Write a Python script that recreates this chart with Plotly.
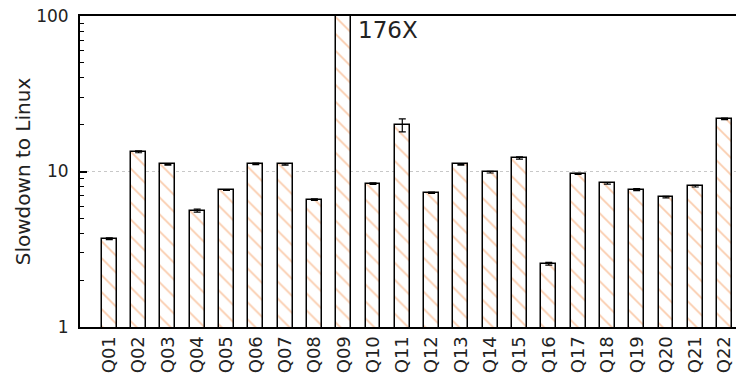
import plotly.graph_objects as go

queries = [f"Q{i:02d}" for i in range(1, 23)]
slowdown = [3.7, 13.4, 11.1, 5.6, 7.6, 11.2, 11.1, 6.6, 176, 8.35, 19.9,
            7.3, 11.1, 9.9, 12.2, 2.55, 9.65, 8.4, 7.65, 6.85, 8.05, 21.8]
errors = [0.05, 0.2, 0.1, 0.12, 0.05, 0.12, 0.12, 0.08, 0.0, 0.1, 1.9,
          0.08, 0.1, 0.12, 0.2, 0.05, 0.08, 0.1, 0.12, 0.08, 0.1, 0.25]
peak_label = "176X"
minor_ticks = [2, 3, 4, 5, 6, 7, 8, 9, 20, 30, 40, 50, 60, 70, 80, 90]

font = "DejaVu Sans"
idx = list(range(len(queries)))

fig = go.Figure()
fig.add_trace(go.Bar(
    x=idx, y=slowdown,
    width=0.51,
    marker=dict(
        color="white",
        line=dict(color="black", width=1.5),
        pattern=dict(shape="\\", fgcolor="#f59a5c", bgcolor="white",
                     size=12, solidity=0.15),
    ),
    error_y=dict(type="data", array=errors, visible=True,
                 color="black", thickness=1.2, width=3.5),
    showlegend=False,
))
# invisible companion trace so the twin tick axis gets rendered
fig.add_trace(go.Scatter(
    x=idx, y=slowdown, yaxis="y2", mode="markers",
    marker=dict(opacity=0), hoverinfo="skip", showlegend=False,
))

# annotate the off-scale bar with its true value
fig.add_annotation(
    x=idx[queries.index("Q09")], y=2, xref="x", yref="y",
    text=peak_label, showarrow=False,
    xanchor="left", yanchor="top", xshift=12, yshift=1,
    font=dict(family=font, size=23, color="#222"),
)

fig.update_layout(
    width=736, height=374,
    margin=dict(l=80, r=0, t=16, b=47),
    plot_bgcolor="white", paper_bgcolor="white",
    font=dict(family=font, size=17, color="#222"),
    bargap=0,
    # twin log axis carrying the short intermediate tick marks
    yaxis2=dict(
        type="log", range=[0, 2], overlaying="y", side="left", anchor="x",
        tickmode="array", tickvals=minor_ticks, showticklabels=False,
        ticks="inside", ticklen=4, tickcolor="black", tickwidth=1.2,
        showgrid=False, showline=False, zeroline=False, layer="above traces",
    ),
)
fig.update_xaxes(
    range=[-1, 21.39],
    tickmode="array", tickvals=idx, ticktext=queries,
    tickangle=-90, ticks="",
    showline=True, linecolor="black", linewidth=2, mirror=True,
    showgrid=False, zeroline=False,
    tickfont=dict(family=font, size=18, color="#222"),
)
fig.layout.yaxis.update(
    type="log", range=[0, 2], dtick=1,
    ticks="inside", ticklen=7, tickcolor="black", tickwidth=1.5,
    ticklabelstandoff=6,
    showline=True, linecolor="black", linewidth=2, mirror=False,
    showgrid=True, gridcolor="#c8c8c8", griddash="dot", gridwidth=1,
    zeroline=False,
    title=dict(text="Slowdown to Linux", standoff=0,
               font=dict(family=font, size=20, color="#222")),
    tickfont=dict(family=font, size=17, color="#222"),
)

fig.write_html("out.html")
